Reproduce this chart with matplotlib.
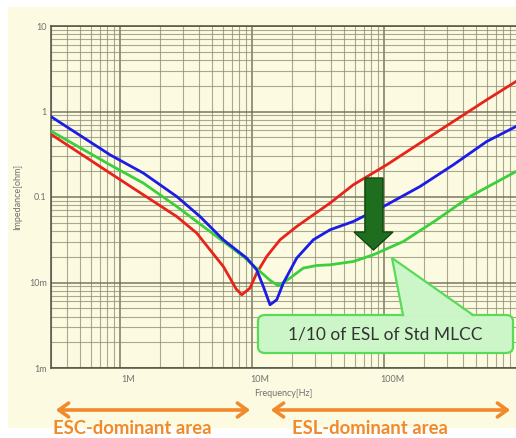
import matplotlib
matplotlib.use("Agg")
import matplotlib.pyplot as plt
import matplotlib.patches as mpatches
from matplotlib.transforms import ScaledTranslation
from matplotlib.ticker import LogLocator, NullFormatter, FixedLocator, FixedFormatter

plt.rcParams['font.family'] = ['Lato', 'DejaVu Sans']

# ---- data ----
red_f = [3.04e5, 8.40e5, 1.502e6, 2.689e6, 3.812e6, 4.806e6, 6.062e6, 6.813e6, 7.565e6,
         8.356e6, 9.656e6, 1.085e7, 1.292e7, 1.630e7, 2.181e7, 2.913e7, 3.899e7, 5.853e7,
         1.048e8, 1.874e8, 3.350e8, 5.998e8, 1.0e9]
red_z = [0.534, 0.1904, 0.1061, 0.05912, 0.03784, 0.02413, 0.01538, 0.01126, 0.00844,
         0.00718, 0.00860, 0.01288, 0.02014, 0.03158, 0.04519, 0.06190, 0.08485, 0.1389,
         0.2379, 0.4270, 0.7637, 1.370, 2.243]

blue_f = [3.04e5, 8.40e5, 1.502e6, 2.689e6, 4.037e6, 6.062e6, 9.118e6, 1.085e7, 1.218e7,
          1.369e7, 1.539e7, 1.726e7, 2.181e7, 2.913e7, 3.899e7, 5.853e7, 1.048e8, 1.874e8,
          3.350e8, 5.998e8, 1.0e9]
blue_z = [0.860, 0.3116, 0.1904, 0.1014, 0.05912, 0.03158, 0.01929, 0.01408, 0.00898,
          0.00549, 0.00628, 0.00984, 0.01929, 0.03158, 0.04134, 0.05170, 0.08107, 0.1327,
          0.2379, 0.4458, 0.6677]

green_f = [3.04e5, 8.40e5, 1.502e6, 2.689e6, 4.277e6, 6.062e6, 8.592e6, 1.150e7, 1.369e7,
           1.582e7, 1.941e7, 2.446e7, 3.092e7, 3.899e7, 5.853e7, 8.296e7, 1.401e8, 2.507e8,
           4.482e8, 1.0e9]
green_z = [0.583, 0.2379, 0.1454, 0.07743, 0.04519, 0.03017, 0.02014, 0.01345, 0.01061,
           0.00915, 0.01126, 0.01474, 0.01580, 0.01611, 0.01760, 0.02109, 0.03017, 0.05411,
           0.1014, 0.1987]

x_ticks = [1e6, 1e7, 1e8]
x_tick_labels = ['1M', '10M', '100M']
y_ticks = [1e-3, 1e-2, 1e-1, 1, 10]
y_tick_labels = ['1m', '10m', '0.1', '1', '10']

W, H = 516, 438
fig = plt.figure(figsize=(W / 100, H / 100), dpi=100)
fig.patch.set_facecolor('white')

def fx(px):
    return px / W

def fy(py):
    return 1 - py / H

cream = '#FCFBE1'
fig.patches.append(mpatches.Rectangle((fx(8), fy(428)), fx(516) - fx(8), fy(7) - fy(428),
                                      transform=fig.transFigure, facecolor=cream,
                                      edgecolor='none', zorder=-10))

ax = fig.add_axes([fx(51), fy(368), fx(516) - fx(51), fy(26) - fy(368)])
ax.set_facecolor(cream)
ax.set_xscale('log')
ax.set_yscale('log')
ax.set_xlim(3e5, 1e9)
ax.set_ylim(1e-3, 10)

ax.xaxis.set_major_locator(FixedLocator(x_ticks))
ax.xaxis.set_major_formatter(FixedFormatter(x_tick_labels))
ax.yaxis.set_major_locator(FixedLocator(y_ticks))
ax.yaxis.set_major_formatter(FixedFormatter(y_tick_labels))
ax.xaxis.set_minor_locator(LogLocator(base=10, subs=range(2, 10), numticks=20))
ax.yaxis.set_minor_locator(LogLocator(base=10, subs=range(2, 10), numticks=20))
ax.xaxis.set_minor_formatter(NullFormatter())
ax.yaxis.set_minor_formatter(NullFormatter())

ax.grid(True, which='major', color='#6B6B55', lw=1.1, alpha=0.9)
ax.grid(True, which='minor', color='#8E8E72', lw=0.8, alpha=0.75)
ax.tick_params(which='both', length=0, labelsize=6.5, labelcolor='#707070')
ax.tick_params(axis='y', pad=3)
ax.tick_params(axis='x', pad=5)
for lab in ax.get_xticklabels():
    lab.set_transform(lab.get_transform() + ScaledTranslation(8 / 100, 0, fig.dpi_scale_trans))

for s in ax.spines.values():
    s.set_color('#4F4F40')
    s.set_linewidth(1.1)
ax.spines['right'].set_visible(False)

ax.set_xlabel('Frequency[Hz]', fontsize=6.5, color='#707070', labelpad=4)
ax.set_ylabel('Impedance[ohm]', fontsize=6.5, color='#707070')
ax.yaxis.set_label_coords((22 - 51) / 465, 0.5)

ax.plot(red_f, red_z, color='#E8231C', lw=2.0, solid_joinstyle='round', zorder=5)
ax.plot(green_f, green_z, color='#3CCF3C', lw=2.0, solid_joinstyle='round', zorder=6)
ax.plot(blue_f, blue_z, color='#1C1CE6', lw=2.0, solid_joinstyle='round', zorder=7)

# dark green down arrow
arrow_pts = [(365, 178), (383, 178), (383, 232), (393, 232), (373.5, 250), (354, 232), (365, 232)]
fig.patches.append(mpatches.Polygon([(fx(x), fy(y)) for x, y in arrow_pts], closed=True,
                                    transform=fig.transFigure, facecolor='#1F6E1F',
                                    edgecolor='#0E4A0E', lw=1.0, zorder=20))

# callout
box = mpatches.FancyBboxPatch((fx(258), fy(353)), fx(513) - fx(258), fy(315) - fy(353),
                              boxstyle='round,pad=0,rounding_size=0.014',
                              transform=fig.transFigure, facecolor='#CDF6C8',
                              edgecolor='#58DB58', lw=1.6, zorder=20)
fig.patches.append(box)
ptr = [(403, 316.5), (392, 258), (473, 316.5)]
fig.patches.append(mpatches.Polygon([(fx(x), fy(y)) for x, y in ptr], closed=True,
                                    transform=fig.transFigure, facecolor='#CDF6C8',
                                    edgecolor='none', zorder=21))
fig.lines.append(plt.Line2D([fx(403), fx(392), fx(473)], [fy(315), fy(258), fy(315)],
                            transform=fig.transFigure, color='#58DB58', lw=1.6, zorder=22))
fig.text(fx(385), fy(335), '1/10 of ESL of Std MLCC', ha='center', va='center',
         fontsize=12.5, color='#333333', zorder=23)

# orange arrows
orange = '#F08A2C'
for x0, x1 in [(53, 253), (268, 513)]:
    fig.patches.append(mpatches.FancyArrowPatch((fx(x0), fy(410)), (fx(x1), fy(410)),
                                                transform=fig.transFigure,
                                                arrowstyle='<->,head_length=7,head_width=5',
                                                color=orange, lw=2.6, zorder=20))
fig.text(fx(53), fy(428), 'ESC-dominant area', ha='left', va='center', fontsize=13.3,
         fontweight='bold', color=orange)
fig.text(fx(292), fy(429), 'ESL-dominant area', ha='left', va='center', fontsize=13.3,
         fontweight='bold', color=orange)

fig.savefig('out.png', dpi=100)
